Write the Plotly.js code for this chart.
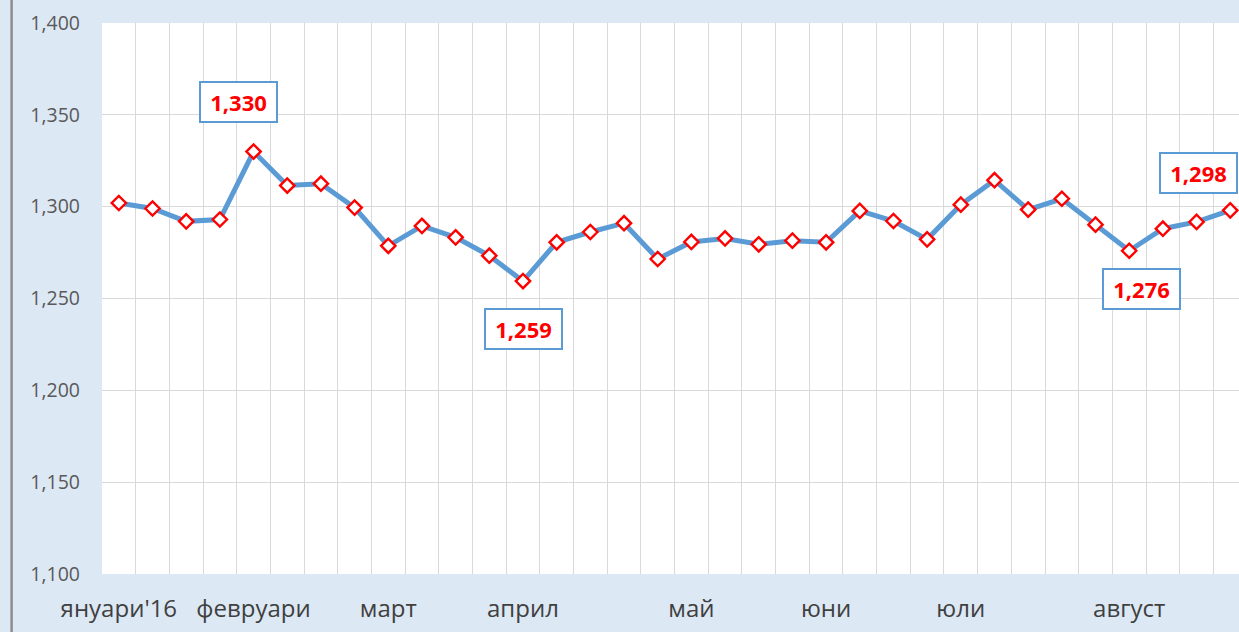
<!DOCTYPE html>
<html>
<head>
<meta charset="utf-8">
<script src="https://cdn.plot.ly/plotly-3.0.1.min.js"></script>
<style>
  html, body { margin: 0; padding: 0; background: #dde8f5; }
  #chart { width: 1239px; height: 632px; }
</style>
</head>
<body>
<div id="chart"></div>
<script>
// Weekly values (index 0..33)
const values = [
  1302, 1299, 1292, 1293, 1330, 1311.5, 1312.5, 1299.5, 1278.7, 1289.5,
  1283.3, 1273.3, 1259.5, 1280.6, 1286.2, 1291, 1271.5, 1280.8, 1282.7, 1279.5,
  1281.5, 1280.6, 1297.7, 1292.2, 1282.2, 1301.1, 1314.4, 1298.4, 1304.3, 1290.2,
  1276, 1288, 1291.7, 1298
];
// Month labels and the week index where each is placed
const monthLabels = ["януари'16", "февруари", "март", "април", "май", "юни", "юли", "август"];
const monthIndex = [0, 4, 8, 12, 17, 21, 25, 30];
// Highlighted points (index) and their label box offsets
const labelIndex = [4, 12, 30, 33];
const labelShiftX = [-15, 1, 12, -32];
const labelShiftY = [50, -48, -38, 37];

const xs = values.map((v, i) => i);

const fmt = v => Math.floor(v).toLocaleString('en-US');

const trace = {
  x: xs,
  y: values,
  type: 'scatter',
  mode: 'lines+markers',
  line: { color: '#5b9bd5', width: 5 },
  marker: { symbol: 'diamond', size: 11, color: '#ffffff', line: { color: '#ff0000', width: 2.4 } },
  hoverinfo: 'none'
};

const annotations = labelIndex.map((idx, k) => ({
  x: idx,
  y: values[idx],
  xref: 'x', yref: 'y',
  text: '<b>' + fmt(values[idx]) + '</b>',
  showarrow: false,
  xshift: labelShiftX[k],
  yshift: labelShiftY[k],
  font: { family: 'Open Sans, DejaVu Sans, sans-serif', size: 22, color: '#ff0000' },
  bgcolor: '#ffffff',
  bordercolor: '#5b9bd5',
  borderwidth: 2,
  borderpad: 2,
  width: 71,
  height: 34
}));

const layout = {
  width: 1239,
  height: 632,
  margin: { l: 102, r: 0, t: 23, b: 58 },
  paper_bgcolor: '#dde8f5',
  plot_bgcolor: '#ffffff',
  showlegend: false,
  xaxis: {
    range: [-0.5, 33.26],
    tickmode: 'array',
    tickvals: monthIndex,
    ticktext: monthLabels,
    showgrid: false,
    zeroline: false,
    showline: false,
    ticks: '',
    ticklabelstandoff: 18,
    tickfont: { family: 'Open Sans, DejaVu Sans, sans-serif', size: 24, color: '#404040' },
    minor: { tick0: 0.5, dtick: 1, showgrid: true, gridcolor: '#d9d9d9', gridwidth: 1, ticks: '' }
  },
  yaxis: {
    range: [1100, 1400],
    dtick: 50,
    tickformat: ',d',
    showgrid: true,
    gridcolor: '#d9d9d9',
    gridwidth: 1,
    zeroline: false,
    showline: false,
    ticks: '',
    ticklabelstandoff: 21,
    tickfont: { family: 'Open Sans, DejaVu Sans, sans-serif', size: 19.5, color: '#595959' }
  },
  annotations: annotations,
  shapes: [
    { type: 'line', xref: 'paper', yref: 'paper', x0: -0.0795, x1: -0.0795, y0: -0.2, y1: 1.1,
      line: { color: '#8c8c8c', width: 2.5 } }
  ]
};

Plotly.newPlot('chart', [trace], layout, { displayModeBar: false, staticPlot: true });
</script>
</body>
</html>
